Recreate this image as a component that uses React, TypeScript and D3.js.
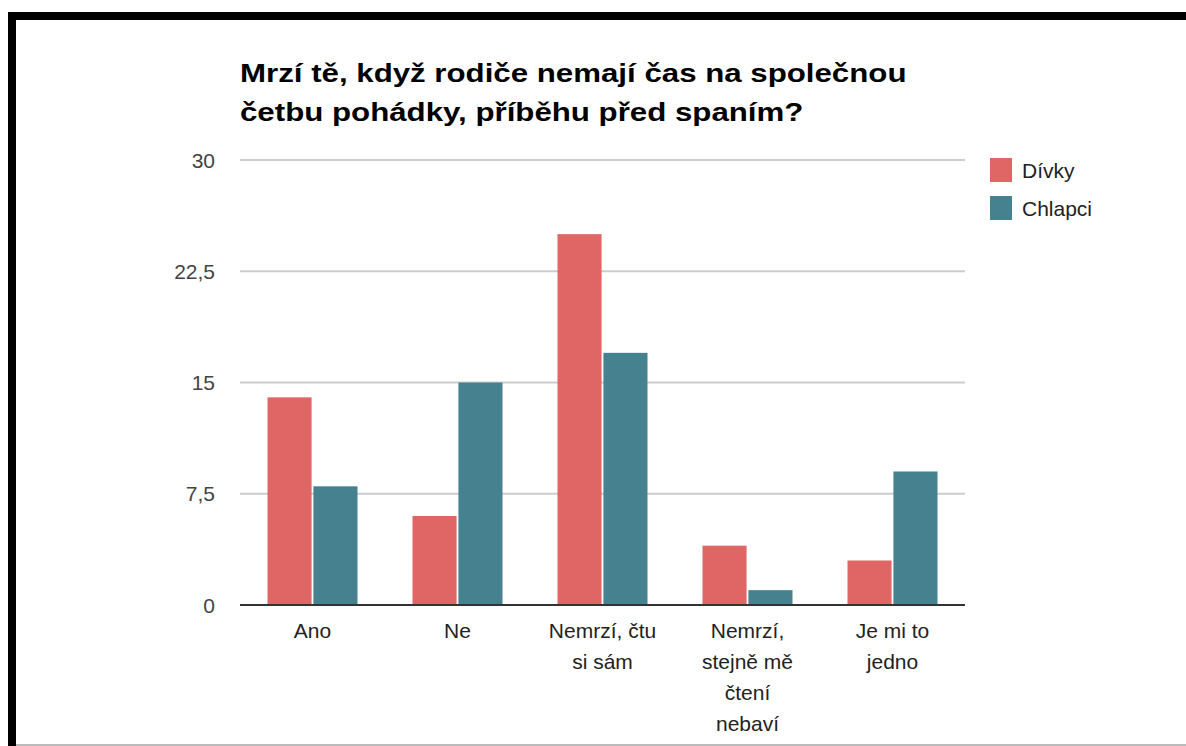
import React from "react";
import * as d3 from "d3";

const categories = [
  ["Ano"],
  ["Ne"],
  ["Nemrzí, čtu", "si sám"],
  ["Nemrzí,", "stejně mě", "čtení", "nebaví"],
  ["Je mi to", "jedno"],
];
const divky = [14, 6, 25, 4, 3];
const chlapci = [8, 15, 17, 1, 9];
const seriesNames = ["Dívky", "Chlapci"];
const seriesColors = ["#e06666", "#45818e"];
const yTicks = [0, 7.5, 15, 22.5, 30];
const titleLines = [
  "Mrzí tě, když rodiče nemají čas na společnou",
  "četbu pohádky, příběhu před spaním?",
];

const W = 1186;
const H = 746;
const plot = { left: 240, right: 965, top: 160, bottom: 605 };

export default function App() {
  const x = d3
    .scaleBand<number>()
    .domain(d3.range(categories.length))
    .range([plot.left, plot.right]);
  const inner = d3
    .scaleBand<number>()
    .domain([0, 1])
    .range([0, 90])
    .paddingInner(0.04);
  const y = d3.scaleLinear().domain([0, 30]).range([plot.bottom, plot.top]);
  const fmt = (v: number) => String(v).replace(".", ",");
  const series = [divky, chlapci];
  const font = "'Liberation Sans', Arial, sans-serif";

  return (
    <svg
      width={W}
      height={H}
      style={{ position: "absolute", left: 0, top: 0, background: "#fff" }}
      fontFamily={font}
    >
      {/* frame */}
      <rect x={8} y={12} width={W - 8} height={8} fill="#000" />
      <rect x={8} y={12} width={8} height={H - 12} fill="#000" />
      <line x1={16} x2={W} y1={745} y2={745} stroke="#bbb" strokeWidth={2} />

      {titleLines.map((t, i) => (
        <text
          key={i}
          transform={`translate(240, ${82 + i * 39}) scale(1.25, 1)`}
          fontSize={25}
          fontWeight="bold"
          fill="#000"
        >
          {t}
        </text>
      ))}

      {yTicks.map((t) => (
        <g key={t}>
          {t !== 0 && (
            <line
              x1={plot.left}
              x2={plot.right}
              y1={y(t)}
              y2={y(t)}
              stroke="#cccccc"
              strokeWidth={2}
            />
          )}
          <text
            x={215}
            y={y(t) + 7.5}
            textAnchor="end"
            fontSize={21}
            fill="#444"
          >
            {fmt(t)}
          </text>
        </g>
      ))}

      {categories.map((c, i) => {
        const cx = x(i)! + x.bandwidth() / 2;
        return (
          <g key={i}>
            {series.map((s, j) => (
              <rect
                key={j}
                x={cx - 45 + inner(j)!}
                y={y(s[i])}
                width={inner.bandwidth()}
                height={y(0) - y(s[i])}
                fill={seriesColors[j]}
              />
            ))}
            {c.map((line, k) => (
              <text
                key={k}
                x={cx}
                y={638 + k * 31}
                textAnchor="middle"
                fontSize={21}
                fill="#222"
              >
                {line}
              </text>
            ))}
          </g>
        );
      })}

      <line
        x1={plot.left}
        x2={plot.right}
        y1={y(0)}
        y2={y(0)}
        stroke="#333"
        strokeWidth={2}
      />

      {seriesNames.map((n, j) => (
        <g key={n} transform={`translate(990, ${158 + j * 38})`}>
          <rect width={22} height={24} fill={seriesColors[j]} />
          <text x={32} y={19.5} fontSize={21} fill="#222">
            {n}
          </text>
        </g>
      ))}
    </svg>
  );
}
